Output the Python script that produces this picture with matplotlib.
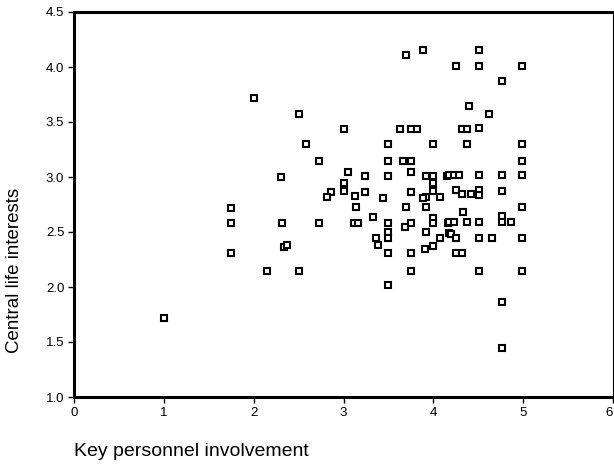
import matplotlib
matplotlib.use("Agg")
import matplotlib.pyplot as plt

plt.rcParams['font.family'] = ['Liberation Sans', 'DejaVu Sans']

# punti
key_personnel = [
    1.0, 1.75, 1.75, 1.75, 2.0, 2.15, 2.30, 2.32, 2.34, 2.37,
    2.50, 2.50, 2.58, 2.73, 2.73, 3.70, 3.88, 3.01, 3.63, 3.75,
    3.82, 3.49, 4.0, 3.49, 3.66, 3.75, 3.05, 3.24, 3.49, 3.75,
    3.92, 4.0, 4.15, 3.01, 3.01, 2.86, 2.82, 3.13, 3.24, 3.44,
    3.75, 3.92, 3.89, 4.0, 4.0, 4.07, 3.14, 3.70, 3.92, 3.12,
    3.16, 3.33, 3.49, 3.68, 3.75, 4.0, 4.0, 4.16, 3.49, 3.49,
    3.36, 3.38, 3.92, 4.07, 4.17, 3.49, 3.75, 3.91, 4.0, 3.75,
    3.49, 4.51, 4.25, 4.51, 4.99, 4.76, 4.40, 4.62, 4.32, 4.37,
    4.51, 4.38, 4.99, 4.99, 4.17, 4.23, 4.29, 4.51, 4.76, 4.99,
    4.25, 4.32, 4.42, 4.51, 4.51, 4.76, 4.99, 4.33, 4.76, 4.76,
    4.87, 4.17, 4.23, 4.37, 4.51, 4.20, 4.25, 4.51, 4.65, 4.99,
    4.25, 4.32, 4.51, 4.99, 4.76, 4.76,
]
central_life = [
    1.72, 2.72, 2.58, 2.31, 3.72, 2.15, 3.0, 2.58, 2.36, 2.38,
    3.57, 2.15, 3.30, 3.15, 2.58, 4.11, 4.15, 3.44, 3.44, 3.44,
    3.44, 3.30, 3.30, 3.15, 3.15, 3.15, 3.05, 3.01, 3.01, 3.05,
    3.01, 3.01, 3.01, 2.95, 2.87, 2.86, 2.82, 2.83, 2.86, 2.81,
    2.86, 2.82, 2.81, 2.95, 2.87, 2.82, 2.73, 2.73, 2.73, 2.58,
    2.58, 2.64, 2.58, 2.55, 2.58, 2.63, 2.58, 2.58, 2.50, 2.45,
    2.45, 2.38, 2.50, 2.45, 2.49, 2.31, 2.31, 2.35, 2.37, 2.15,
    2.02, 4.15, 4.01, 4.01, 4.01, 3.87, 3.65, 3.57, 3.44, 3.44,
    3.45, 3.30, 3.30, 3.15, 3.02, 3.02, 3.02, 3.02, 3.02, 3.02,
    2.88, 2.85, 2.85, 2.88, 2.84, 2.87, 2.73, 2.68, 2.65, 2.59,
    2.59, 2.59, 2.59, 2.59, 2.59, 2.48, 2.45, 2.45, 2.45, 2.45,
    2.31, 2.31, 2.15, 2.15, 1.86, 1.45,
]

x_ticks = [0, 1, 2, 3, 4, 5, 6]
y_ticks = [1.0, 1.5, 2.0, 2.5, 3.0, 3.5, 4.0, 4.5]

fig = plt.figure(figsize=(6.14, 4.66), dpi=100)
ax = fig.add_axes([74 / 614, 1 - 397 / 466, 539 / 614, 385 / 466])

ax.plot(key_personnel, central_life, linestyle='none', marker='s', markersize=3.8,
        markerfacecolor='white', markeredgecolor='black', markeredgewidth=1.5)

ax.set_xlim(0, 6)
ax.set_ylim(1.0, 4.5)
ax.set_xticks(x_ticks)
ax.set_yticks(y_ticks)
ax.set_yticklabels([f"{v:.1f}" for v in y_ticks])

for lato in ['left', 'bottom', 'top']:
    ax.spines[lato].set_linewidth(2.2)
ax.spines['right'].set_linewidth(0.8)

ax.tick_params(axis='both', labelsize=9.5, length=4, width=1, colors='black')
ax.tick_params(axis='y', pad=3)
ax.tick_params(axis='x', pad=3)
# l'ultima etichetta (6) e' tagliata anche nell'originale: la sposto un po' a sinistra
ax.get_xticklabels()[-1].set_horizontalalignment('right')

fig.text(15 / 614, 1 - 270 / 466, 'Central life interests', rotation=90,
         ha='center', va='center', fontsize=13.5)
fig.text(74 / 614, 1 - 452 / 466, 'Key personnel involvement',
         ha='left', va='center', fontsize=14)

fig.savefig("out.png", dpi=100)
